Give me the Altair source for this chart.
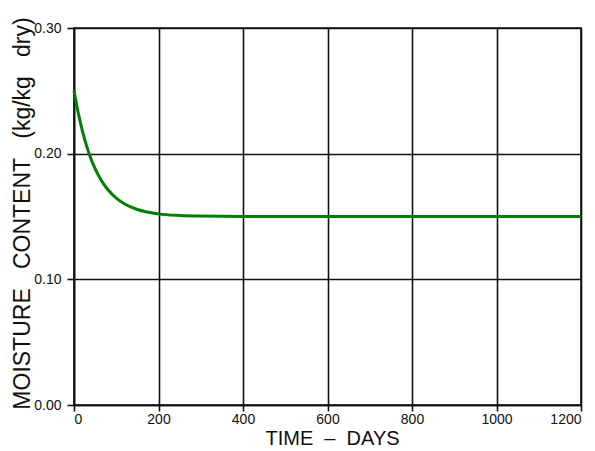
import altair as alt
import pandas as pd

days = [0, 10, 20, 30, 40, 50, 60, 70, 80, 100, 120, 150, 200, 250, 300, 400, 600, 800, 1000, 1200]
moisture = [0.250, 0.2325, 0.218, 0.206, 0.196, 0.188, 0.1815, 0.176, 0.1715, 0.1646, 0.160, 0.1556,
            0.1521, 0.1508, 0.1503, 0.1500, 0.1500, 0.1500, 0.1500, 0.1500]
x_ticks = [0, 200, 400, 600, 800, 1000, 1200]
y_ticks = [0.0, 0.1, 0.2, 0.3]

df = pd.DataFrame({"t": days, "m": moisture})

NB = "\u00a0"
x_title = f"TIME{NB}{NB}–{NB}{NB}DAYS"
y_title = f"MOISTURE{NB*3}CONTENT{NB*3}(kg/kg{NB*3}dry)"

chart = alt.Chart(df).mark_line(color="#008000", strokeWidth=3, interpolate="monotone").encode(
    x=alt.X("t:Q", scale=alt.Scale(domain=[0, 1200], nice=False),
            axis=alt.Axis(values=x_ticks, format="d", title=x_title,
                          titleX=258, titleY=39, titleBaseline="alphabetic", titleAlign="center",
                          titleFontSize=20,
                          labelFontSize=14, labelPadding=1, tickSize=6)),
    y=alt.Y("m:Q", scale=alt.Scale(domain=[0, 0.3], nice=False, zero=True),
            axis=alt.Axis(values=y_ticks, format=".2f", title=y_title,
                          titleX=-45, titleY=185, titleAngle=270, titleBaseline="alphabetic",
                          titleAlign="center", titleFontSize=23,
                          labelFontSize=14, labelPadding=6, tickSize=7)),
).properties(
    width=507, height=377,
    autosize=alt.AutoSizeParams(type="none"),
    padding={"left": 66, "top": 20, "right": 6, "bottom": 46},
    background="white",
).configure_axis(
    gridColor="#111111", gridWidth=1.6, gridOpacity=1,
    domainColor="#111111", domainWidth=1.6,
    tickColor="#111111", tickWidth=1.6,
    labelColor="#111111", labelFont="Liberation Sans",
    titleFont="Liberation Sans", titleFontWeight="normal", titleColor="#111111",
).configure_view(stroke="#111111", strokeWidth=1.6)

chart.save("out.html", embed_options={"renderer": "svg", "actions": False})
